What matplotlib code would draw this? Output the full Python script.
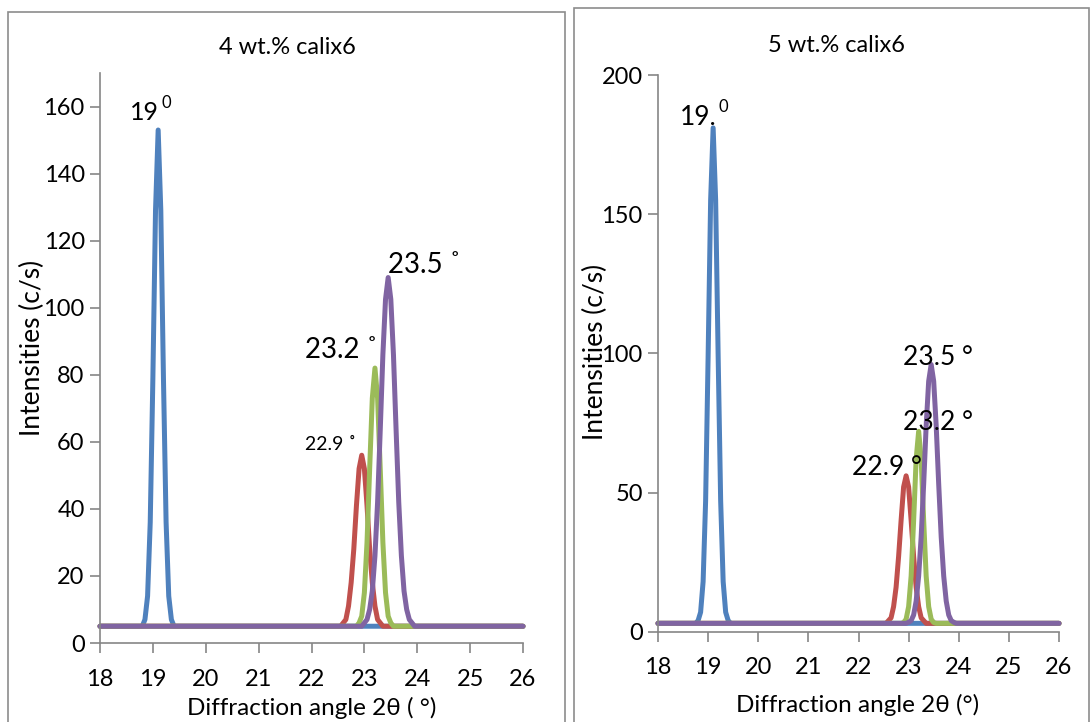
import matplotlib
matplotlib.use("Agg")
import matplotlib.pyplot as plt
from matplotlib.patches import Rectangle

plt.rcParams['font.family'] = ['Lato', 'DejaVu Sans']

# ---------------- data ----------------
two_theta_ticks = [18, 19, 20, 21, 22, 23, 24, 25, 26]

# 4 wt.% calix6
x_blue_4 = [18.0, 18.8, 18.85, 18.9, 18.95, 19.0, 19.05, 19.1, 19.15, 19.2, 19.25, 19.3, 19.35, 19.4, 26.0]
y_blue_4 = [5, 5, 7, 14, 36, 79, 129, 153, 129, 79, 36, 14, 7, 5, 5]
x_red_4 = [18.0, 22.55, 22.6, 22.65, 22.7, 22.75, 22.8, 22.85, 22.9, 22.95, 23.0, 23.05, 23.1, 23.15, 23.2, 23.25, 23.3, 23.35, 26.0]
y_red_4 = [5, 5, 6, 7, 11, 18, 28, 41, 52, 56, 52, 41, 28, 18, 11, 7, 6, 5, 5]
x_green_4 = [18.0, 22.85, 22.9, 22.95, 23.0, 23.05, 23.1, 23.15, 23.2, 23.25, 23.3, 23.35, 23.4, 23.45, 23.5, 23.55, 26.0]
y_green_4 = [5, 5, 6, 8, 15, 30, 52, 73, 82, 73, 52, 30, 15, 8, 6, 5, 5]
x_purple_4 = [18.0, 22.95, 23.0, 23.05, 23.1, 23.15, 23.2, 23.25, 23.3, 23.35, 23.4, 23.45, 23.5, 23.55, 23.6, 23.65, 23.7, 23.75, 23.8, 23.85, 23.9, 23.95, 26.0]
y_purple_4 = [5, 5, 6, 7, 10, 15.5, 26, 42, 63.5, 86, 102.5, 109, 102.5, 86, 63.5, 42, 26, 15.5, 10, 7, 6, 5, 5]

# 5 wt.% calix6
x_blue_5 = [18.0, 18.75, 18.8, 18.85, 18.9, 18.95, 19.0, 19.05, 19.1, 19.15, 19.2, 19.25, 19.3, 19.35, 19.4, 19.45, 26.0]
y_blue_5 = [3, 3, 4, 7, 18, 47, 99, 155, 181, 155, 99, 47, 18, 7, 4, 3, 3]
x_red_5 = [18.0, 22.55, 22.6, 22.65, 22.7, 22.75, 22.8, 22.85, 22.9, 22.95, 23.0, 23.05, 23.1, 23.15, 23.2, 23.25, 23.3, 23.35, 26.0]
y_red_5 = [3, 3, 4, 5, 9, 16, 27, 40, 52, 56, 52, 40, 27, 16, 9, 5, 4, 3, 3]
x_green_5 = [18.0, 22.85, 22.9, 22.95, 23.0, 23.05, 23.1, 23.15, 23.2, 23.25, 23.3, 23.35, 23.4, 23.45, 23.5, 23.55, 26.0]
y_green_5 = [3, 3, 3.3, 4.5, 9, 20, 40, 62, 72, 62, 40, 20, 9, 4.5, 3.3, 3, 3]
x_purple_5 = [18.0, 22.95, 23.0, 23.05, 23.1, 23.15, 23.2, 23.25, 23.3, 23.35, 23.4, 23.45, 23.5, 23.55, 23.6, 23.65, 23.7, 23.75, 23.8, 23.85, 23.9, 23.95, 26.0]
y_purple_5 = [3, 3, 3.4, 4, 6, 11, 20, 34, 53, 74, 90, 96, 90, 74, 53, 34, 20, 11, 6, 4, 3.4, 3, 3]

colors = ['#4F81BD', '#C0504D', '#9BBB59', '#8064A2']
axis_grey = '#868686'

W, H = 1090, 722
fig = plt.figure(figsize=(W / 100, H / 100), dpi=100)
fig.patch.set_facecolor('white')


def fx(px):
    return px / W


def fy(py):
    return 1 - py / H


# panel frames
fig.add_artist(Rectangle((fx(7.5), -0.01), fx(565 - 7.5), fy(12) + 0.01,
                         transform=fig.transFigure, fill=False,
                         edgecolor='#8c8c8c', lw=1.2))
fig.add_artist(Rectangle((fx(573.5), -0.01), fx(1088.5 - 573.5), fy(8) + 0.01,
                         transform=fig.transFigure, fill=False,
                         edgecolor='#8c8c8c', lw=1.2))

axL = fig.add_axes([fx(100), fy(643), fx(523 - 100), (643 - 73) / H])
axR = fig.add_axes([fx(658), fy(631.7), fx(1059 - 658), (631.7 - 75) / H])


def style(ax, ymax, ystep, xpad):
    ax.set_xlim(18, 26)
    ax.set_ylim(0, ymax)
    ax.set_xticks(two_theta_ticks)
    ax.set_yticks(list(range(0, int(ymax) + 1, ystep)))
    for s in ('top', 'right'):
        ax.spines[s].set_visible(False)
    for s in ('left', 'bottom'):
        ax.spines[s].set_color(axis_grey)
        ax.spines[s].set_linewidth(1.2)
    ax.tick_params(axis='both', direction='out', length=7, width=1.2,
                   color=axis_grey, labelsize=17, labelcolor='black')
    ax.tick_params(axis='x', pad=xpad)
    ax.tick_params(axis='y', pad=4)
    ax.patch.set_alpha(0)


style(axL, 170, 20, 12)
style(axR, 200, 50, 11)

seriesL = [(x_blue_4, y_blue_4), (x_red_4, y_red_4),
           (x_green_4, y_green_4), (x_purple_4, y_purple_4)]
seriesR = [(x_blue_5, y_blue_5), (x_red_5, y_red_5),
           (x_green_5, y_green_5), (x_purple_5, y_purple_5)]
for ax, series in ((axL, seriesL), (axR, seriesR)):
    for (xs, ys), c in zip(series, colors):
        ax.plot(xs, ys, color=c, lw=3.6, solid_capstyle='round',
                solid_joinstyle='round', clip_on=False)

# peak labels, 4 wt.%
axL.text(18.57, 158.2, '19', fontsize=18, va='center', ha='left')
axL.text(19.17, 161.0, '0', fontsize=12, va='center', ha='left')
axL.text(23.45, 112.8, '23.5 \u02da', fontsize=20, va='center', ha='left')
axL.text(21.88, 87.5, '23.2 \u02da', fontsize=20, va='center', ha='left')
axL.text(21.88, 59.1, '22.9 \u02da', fontsize=14, va='center', ha='left')

# peak labels, 5 wt.%
axR.text(18.44, 184.8, '19.', fontsize=19, va='center', ha='left')
axR.text(19.20, 188.5, '0', fontsize=12, va='center', ha='left')
axR.text(22.89, 98.5, '23.5 °', fontsize=19, va='center', ha='left')
axR.text(22.89, 75.0, '23.2 °', fontsize=19, va='center', ha='left')
axR.text(21.87, 58.9, '22.9 °', fontsize=19, va='center', ha='left')

# titles and axis titles
fig.text(fx(287), fy(48), '4 wt.% calix6', fontsize=17, ha='center', va='center')
fig.text(fx(837), fy(45), '5 wt.% calix6', fontsize=17, ha='center', va='center')
fig.text(fx(32), fy(348), 'Intensities (c/s)', fontsize=19, rotation=90,
         ha='center', va='center')
fig.text(fx(595), fy(352), 'Intensities (c/s)', fontsize=19, rotation=90,
         ha='center', va='center')
fig.text(fx(312), fy(708), 'Diffraction angle 2θ ( °)', fontsize=17.5,
         ha='center', va='center')
fig.text(fx(858), fy(705), 'Diffraction angle 2θ (°)', fontsize=17.5,
         ha='center', va='center')

fig.savefig('out.png', dpi=100)
